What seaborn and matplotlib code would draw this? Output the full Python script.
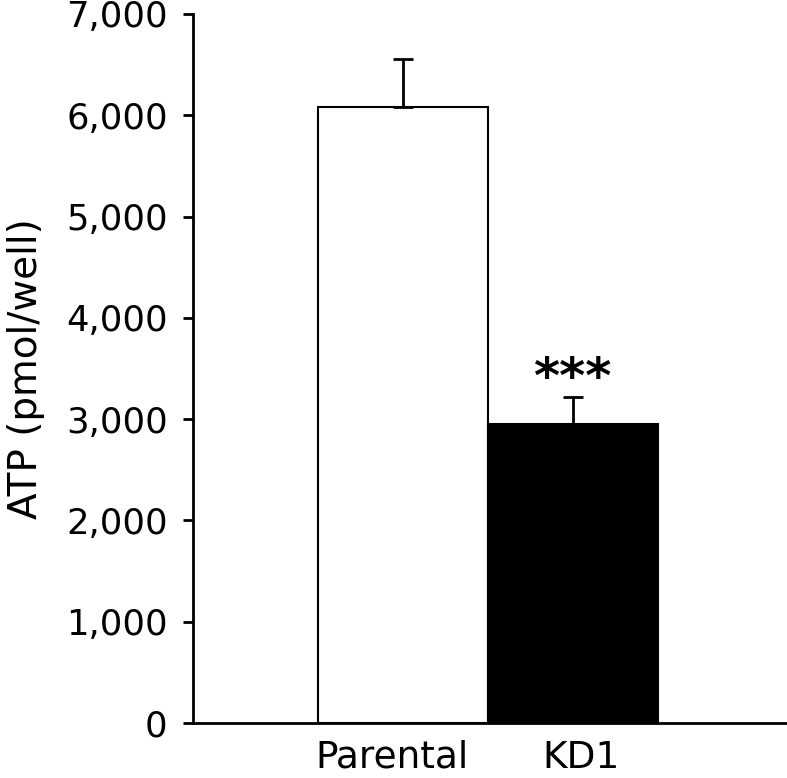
import numpy as np
import pandas as pd
import seaborn as sns
import matplotlib
matplotlib.use("Agg")
import matplotlib.pyplot as plt

# Werte
groups = ["Parental", "KD1"]
atp_mean = [6080, 2950]
atp_err = [480, 270]
bar_colors = ["white", "black"]
label_pos = [-0.065, 1.05]

df = pd.DataFrame({"group": groups, "atp": atp_mean})

sns.set_style("ticks")
plt.rcParams["font.family"] = ["DejaVu Sans"]
plt.rcParams["text.color"] = "black"
plt.rcParams["axes.labelcolor"] = "black"

fig = plt.figure(figsize=(7.87, 7.78), dpi=100)
ax = fig.add_axes([193 / 787, 1 - 723 / 778, (786 - 193) / 787, (723 - 14) / 778])

sns.barplot(data=df, x="group", y="atp", hue="group", palette=bar_colors,
            legend=False, width=1.0, edgecolor="black", linewidth=1.5,
            errorbar=None, ax=ax)

# Fehlerbalken nur nach oben
ax.errorbar(range(len(groups)), atp_mean, yerr=[np.zeros(len(groups)), atp_err],
            fmt="none", ecolor="black", elinewidth=2, capsize=7, capthick=2)

ax.text(1, atp_mean[1] + atp_err[1] - 60, "***", ha="center", va="bottom",
        fontsize=36, fontweight="bold", color="black")

ax.set_xlim(-1.235, 2.256)
ax.set_ylim(0, 7000)
ax.set_yticks(range(0, 7001, 1000))
ax.set_yticklabels([f"{v:,}" for v in range(0, 7001, 1000)])
ax.set_xticks(label_pos)
ax.set_xticklabels(groups)
ax.tick_params(axis="y", labelsize=25.5, length=7.2, width=2, pad=11, colors="black")
ax.tick_params(axis="x", labelsize=27, length=0, pad=12, colors="black")
ax.set_xlabel("")
ax.set_ylabel("ATP (pmol/well)", fontsize=28, labelpad=15)

for s in ["top", "right"]:
    ax.spines[s].set_visible(False)
for s in ["left", "bottom"]:
    ax.spines[s].set_linewidth(2)
    ax.spines[s].set_color("black")

fig.savefig("out.png", dpi=100)
